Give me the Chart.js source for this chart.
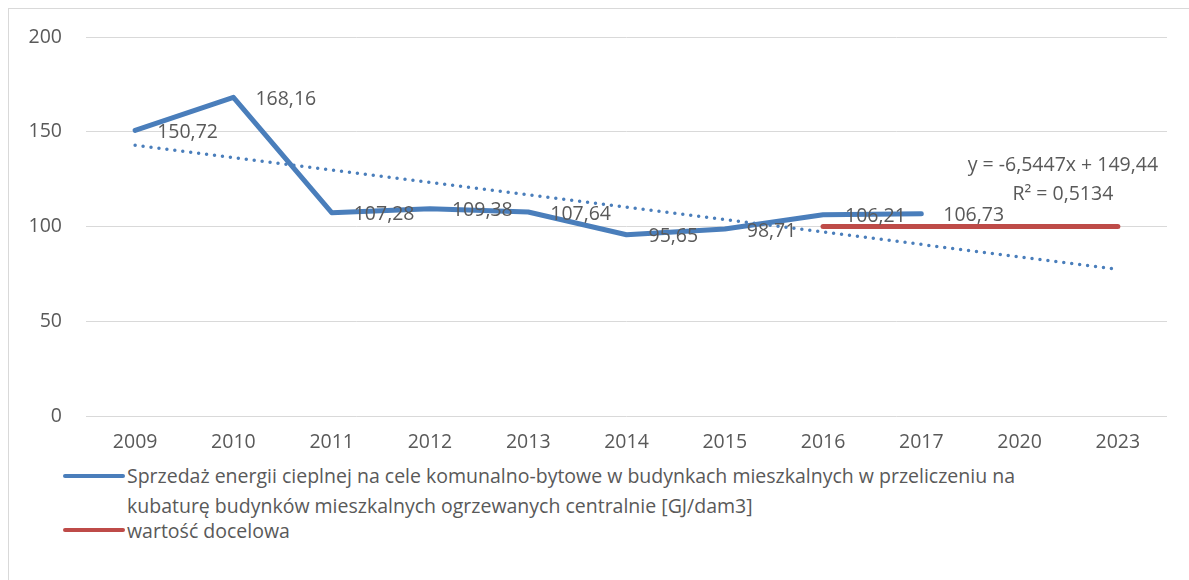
<!DOCTYPE html>
<html>
<head>
<meta charset="utf-8">
<script src="https://cdn.jsdelivr.net/npm/chart.js@4"></script>
<style>
  html, body { margin: 0; padding: 0; background: #fff; }
  #wrap { position: relative; width: 1189px; height: 580px; overflow: hidden; font-family: "Open Sans", sans-serif; }
  #frame { position: absolute; left: 8px; top: 8px; width: 1200px; height: 600px; border-left: 1px solid #d9d9d9; border-top: 1px solid #d9d9d9; }
  #cv { position: absolute; left: 0; top: 0; }
  .leg { position: absolute; left: 0; top: 0; font-size: 19.5px; color: #595959; }
  .sw { position: absolute; height: 4px; border-radius: 2px; }
  .txt { position: absolute; white-space: nowrap; line-height: 30px; }
</style>
</head>
<body>
<div id="wrap">
  <div id="frame"></div>
  <canvas id="cv" width="1189" height="460"></canvas>
  <div class="leg" id="legend"></div>
</div>
<script>
const categories = ['2009','2010','2011','2012','2013','2014','2015','2016','2017','2020','2023'];
const salesValues = [150.72, 168.16, 107.28, 109.38, 107.64, 95.65, 98.71, 106.21, 106.73, null, null];
const targetValues = [null, null, null, null, null, null, null, 100, 100, 100, 100];
const trendValues = [142.9, null, null, null, null, null, null, null, null, null, 77.45];
const yTicks = [0, 50, 100, 150, 200];
const salesLabel = 'Sprzedaż energii cieplnej na cele komunalno-bytowe w budynkach mieszkalnych w przeliczeniu na kubaturę budynków mieszkalnych ogrzewanych centralnie [GJ/dam3]';
const targetLabel = 'wartość docelowa';
const trendText = ['y = -6,5447x + 149,44', 'R² = 0,5134'];

const BLUE = '#4a7ebb';
const RED = '#be4b48';
const TXT = '#595959';
const FONT = '"Open Sans", sans-serif';

const fmt = v => v.toFixed(2).replace('.', ',');

const labelPlugin = {
  id: 'labels',
  afterDatasetsDraw(chart) {
    const ctx = chart.ctx;
    const meta = chart.getDatasetMeta(0);
    ctx.save();
    ctx.font = '19.5px ' + FONT;
    ctx.fillStyle = TXT;
    ctx.textAlign = 'left';
    ctx.textBaseline = 'middle';
    meta.data.forEach((pt, i) => {
      const v = salesValues[i];
      if (v == null) return;
      ctx.fillText(fmt(v), pt.x + 22, pt.y + 2);
    });
    const xs = chart.scales.x;
    const cx = xs.getPixelForValue(categories.length - 1) - 55;
    ctx.textAlign = 'center';
    ctx.fillText(trendText[0], cx, chart.chartArea.top + 128);
    ctx.fillText(trendText[1], cx, chart.chartArea.top + 157);
    ctx.restore();
  }
};

new Chart(document.getElementById('cv'), {
  type: 'line',
  data: {
    labels: categories,
    datasets: [
      { label: salesLabel, data: salesValues, borderColor: BLUE, backgroundColor: BLUE, borderWidth: 5, pointRadius: 0, tension: 0, borderCapStyle: 'round', borderJoinStyle: 'round' },
      { label: targetLabel, data: targetValues, borderColor: RED, backgroundColor: RED, borderWidth: 5, pointRadius: 0, borderCapStyle: 'round' },
      { label: 'trend', data: trendValues, borderColor: BLUE, borderWidth: 3.5, pointRadius: 0, spanGaps: true, borderDash: [0, 8], borderCapStyle: 'round' }
    ]
  },
  options: {
    responsive: false,
    animation: false,
    events: [],
    layout: { padding: { left: 0, right: 22, top: 37, bottom: 0 } },
    plugins: { legend: { display: false }, tooltip: { enabled: false } },
    scales: {
      x: {
        offset: true,
        grid: { display: false, drawTicks: false },
        border: { display: false },
        ticks: { color: TXT, font: { family: FONT, size: 19.5 }, padding: 15, maxRotation: 0 },
        afterFit: s => { s.height = 44; }
      },
      y: {
        min: 0, max: 200,
        afterBuildTicks: s => { s.ticks = yTicks.map(v => ({ value: v })); },
        grid: { color: '#d9d9d9', lineWidth: 1, drawTicks: false },
        border: { display: false },
        ticks: { color: TXT, font: { family: FONT, size: 19.5 }, padding: 24 },
        afterFit: s => { s.width = 86; }
      }
    }
  },
  plugins: [labelPlugin]
});

const leg = document.getElementById('legend');
leg.innerHTML =
  '<div class="sw" style="left:63px;top:474px;width:62px;background:' + BLUE + '"></div>' +
  '<div class="txt" style="left:127px;top:461px">Sprzedaż energii cieplnej na cele komunalno-bytowe w budynkach mieszkalnych w przeliczeniu na<br>kubaturę budynków mieszkalnych ogrzewanych centralnie [GJ/dam3]</div>' +
  '<div class="sw" style="left:63px;top:528px;width:62px;background:' + RED + '"></div>' +
  '<div class="txt" style="left:127px;top:516px">' + targetLabel + '</div>';
</script>
</body>
</html>
